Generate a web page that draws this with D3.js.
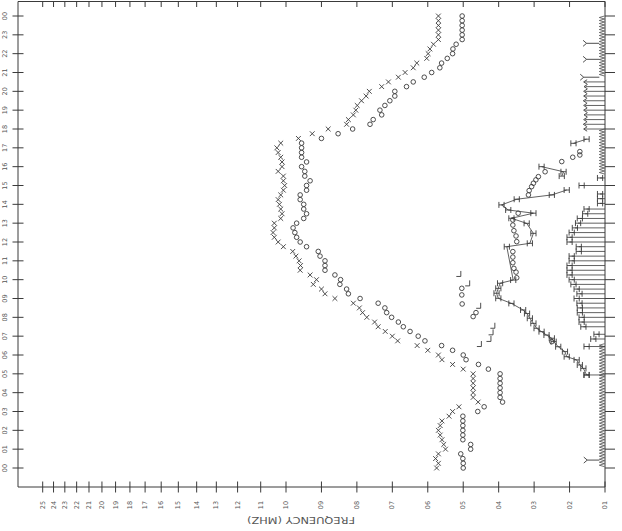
<!DOCTYPE html>
<html>
<head>
<meta charset="utf-8">
<script src="https://cdn.jsdelivr.net/npm/d3@7/dist/d3.min.js"></script>
<style>
  html, body { margin: 0; padding: 0; background: #fff; }
  svg { display: block; }
</style>
</head>
<body>
<script>
// Frequency tick labels (MHz) and hour tick labels
const freqTicks = [1,2,3,4,5,6,7,8,9,10,11,12,13,14,15,16,17,18,19,20,21,22,23,24,25];
const freqTickLabels = ["01","02","03","04","05","06","07","08","09","10","11","12","13","14","15","16","17","18","19","20","21","22","23","24","25"];
const hourTicks = [0,1,2,3,4,5,6,7,8,9,10,11,12,13,14,15,16,17,18,19,20,21,22,23,24];
const hourTickLabels = ["00","01","02","03","04","05","06","07","08","09","10","11","12","13","14","15","16","17","18","19","20","21","22","23","00"];

// Quarter-hour reading times (hours)
const quarterHours = [0,0.25,0.5,0.75,1,1.25,1.5,1.75,2,2.25,2.5,2.75,3,3.25,3.5,3.75,4,4.25,4.5,4.75,5,5.25,5.5,5.75,6,6.25,6.5,6.75,7,7.25,7.5,7.75,8,8.25,8.5,8.75,9,9.25,9.5,9.75,10,10.25,10.5,10.75,11,11.25,11.5,11.75,12,12.25,12.5,12.75,13,13.25,13.5,13.75,14,14.25,14.5,14.75,15,15.25,15.5,15.75,16,16.25,16.5,16.75,17,17.25,17.5,17.75,18,18.25,18.5,18.75,19,19.25,19.5,19.75,20,20.25,20.5,20.75,21,21.25,21.5,21.75,22,22.25,22.5,22.75,23,23.25,23.5,23.75,24];

// "x" trace (MHz), one value per quarter hour
const xTrace = [5.75,5.70,5.78,5.70,5.50,5.55,5.60,5.65,5.70,5.65,5.60,5.40,5.30,5.12,4.58,4.72,4.72,4.72,4.72,4.72,4.72,5.00,5.30,5.60,5.70,6.00,6.30,6.85,7.00,7.20,7.40,7.50,7.72,7.84,7.93,8.10,8.62,8.90,9.00,9.23,9.14,9.32,9.60,9.59,9.63,9.72,9.81,10.1,10.3,10.45,10.5,10.45,10.45,10.2,10.15,10.2,10.25,10.3,10.2,10.1,10.05,10.1,10.1,10.3,10.15,10.15,10.2,10.3,10.35,10.2,9.65,9.26,8.81,8.29,8.24,8.10,8.03,7.99,7.87,7.74,7.65,7.30,7.11,6.83,6.64,6.41,6.31,6.03,5.99,5.94,5.84,5.70,5.70,5.70,5.70,5.70,5.70];

// "o" trace (MHz), one value per quarter hour
const oTrace = [5.00,5.00,5.01,5.07,4.79,4.79,5.01,5.01,5.01,5.01,5.01,5.01,4.59,4.41,3.89,3.96,3.96,3.96,3.96,3.96,3.96,4.29,4.57,4.92,5.00,5.30,5.61,6.08,6.27,6.50,6.69,6.83,7.02,7.16,7.21,7.40,7.91,8.24,8.29,8.48,8.46,8.62,8.90,8.90,8.90,9.04,9.09,9.42,9.60,9.70,9.75,9.80,9.70,9.50,9.42,9.50,9.50,9.60,9.60,9.42,9.42,9.32,9.47,9.47,9.56,9.42,9.56,9.56,9.56,9.56,9.00,8.53,8.12,7.63,7.54,7.30,7.35,7.21,7.07,6.93,6.93,6.60,6.41,6.10,5.89,5.66,5.61,5.45,5.30,5.29,5.20,5.03,5.03,5.03,5.03,5.03,5.03];

// Secondary "o" readings, low group
const oLowHours = [8.04,8.25,8.71,9.19,9.54];
const oLowFreqs = [4.72,4.64,5.03,5.04,5.04];

// Secondary "o" readings, daytime group
const oDayHours = [6.71,10.1,10.4,10.6,10.9,11.2,11.49,12.02,12.32,12.6,12.9,13.17,13.53,14.5,14.73,14.94,15.12,15.3,15.47,15.73,16.27,16.5,16.62,16.8];
const oDayFreqs = [2.5,3.49,3.51,3.57,3.6,3.6,3.6,3.49,3.51,3.57,3.6,3.6,3.45,3.16,3.14,3.07,3.02,2.95,2.88,2.69,2.22,1.91,1.71,1.71];

// "L" readings
const lHours = [6.53,6.8,7.15,7.5,8.56,9.75,10.25];
const lFreqs = [4.53,4.26,4.2,4.15,4.55,4.86,5.11];

// Connected "H" trace (null = break in the line)
const hHours = [4.94,5.29,5.47,5.74,5.91,6.18,6.44,6.71,6.89,7.06,7.24,7.42,7.68,7.95,8.2,8.39,8.74,9.01,9.28,9.54,9.81,9.98,11.75,11.93,12.46,12.99,13.26,13.53,13.7,13.97,14.27,14.5,14.76,15.1,15.5,15.73,16.0,16.6,17.24,17.46];
const hFreqs = [1.52,1.61,1.71,1.80,2.08,2.13,2.32,2.45,2.5,2.65,2.79,2.93,3.02,3.12,3.2,3.31,3.64,4.01,4.06,4.01,3.96,3.59,3.77,3.12,3.02,3.21,3.64,3.02,3.73,3.92,3.49,2.5,2.08,null,2.22,2.17,2.79,null,1.89,1.52];

// Lower-limit bars drawn from 1 MHz, with end markers
const barHours = [4.94,6.45,6.85,7.1,7.5,7.75,8,8.25,8.5,8.75,9,9.25,9.5,9.75,10,10.25,10.5,10.75,11,11.25,11.5,11.75,12,12.25,12.5,12.75,13,13.25,13.5,13.75,14.05,14.3,14.55,15.0,15.4];
const barFreqs = [1.52,1.52,1.33,1.24,1.61,1.66,1.66,1.71,1.71,1.72,1.80,1.72,1.80,1.89,1.94,2.00,2.00,2.00,1.94,1.94,1.74,1.74,2.00,2.00,1.94,1.85,1.76,1.71,1.56,1.52,1.14,1.14,1.14,1.66,1.14];

// Evening bars ending with "<" markers
const eveBarHours = [18,18.25,18.5,18.75,19,19.25,19.5,19.75,20,20.25,20.5];
const eveBarFreqs = [1.56,1.57,1.56,1.55,1.56,1.56,1.57,1.56,1.56,1.55,1.56];

// "Y" readings
const yHours = [0.42,20.75,21.7,22.55];
const yFreqs = [1.5,1.6,1.52,1.52];

// Periods flagged along the 1 MHz edge
const flagStart = [0,15.55,20.75];
const flagEnd = [6.6,18.0,24];
const flagFreq = 1.16;

const W = 622, H = 531;
const ink = "#3a3a3a";

// Frequency scale: linear from 1 to 10 MHz, logarithmic from 10 to 25 MHz
const fLin = d3.scaleLinear().domain([1, 10]).range([605, 286]);
const fLog = d3.scaleLog().domain([10, 25]).range([286, 42.7]);
const fx = f => (f <= 10 ? fLin(f) : fLog(f));
const hy = d3.scaleLinear().domain([0, 24]).range([468, 16]);

const plotLeft = 18, plotRight = fx(1), plotTop = 1.5, plotBottom = 487;

const svg = d3.select("body").append("svg")
  .attr("width", W).attr("height", H)
  .attr("viewBox", `0 0 ${W} ${H}`);

// Frame
const frame = svg.append("g").attr("stroke", ink).attr("stroke-width", 1).attr("fill", "none");
frame.append("path").attr("d", `M${plotLeft},${plotTop}H${plotRight}V${plotBottom}H${plotLeft}Z`);

// Frequency ticks, bottom (crossing) and top (inward)
frame.selectAll("line.fb").data(freqTicks).join("line").attr("class", "fb")
  .attr("x1", d => fx(d)).attr("x2", d => fx(d)).attr("y1", plotBottom - 5.5).attr("y2", plotBottom + 5.5);
frame.selectAll("line.ft").data(freqTicks).join("line").attr("class", "ft")
  .attr("x1", d => fx(d)).attr("x2", d => fx(d)).attr("y1", plotTop).attr("y2", plotTop + 5.5);
// Hour ticks, left (crossing) and right (outward)
frame.selectAll("line.hl").data(hourTicks).join("line").attr("class", "hl")
  .attr("y1", d => hy(d)).attr("y2", d => hy(d)).attr("x1", plotLeft - 5.5).attr("x2", plotLeft + 5.5);
frame.selectAll("line.hr").data(hourTicks).join("line").attr("class", "hr")
  .attr("y1", d => hy(d)).attr("y2", d => hy(d)).attr("x1", plotRight).attr("x2", plotRight + 10);

// Tick labels, turned to read upward
const lbl = svg.append("g").attr("fill", "#555")
  .style("font-family", "'DejaVu Sans', sans-serif").style("font-size", "6.5px");
lbl.selectAll("text.fl").data(freqTicks).join("text").attr("class", "fl")
  .attr("transform", d => `translate(${fx(d)},505) rotate(-90)`)
  .attr("text-anchor", "middle").attr("dominant-baseline", "central")
  .text((d, i) => freqTickLabels[i]);
lbl.selectAll("text.hl").data(hourTicks).join("text").attr("class", "hl")
  .attr("transform", d => `translate(5,${hy(d)}) rotate(-90)`)
  .attr("text-anchor", "middle").attr("dominant-baseline", "central")
  .text((d, i) => hourTickLabels[i]);

// Axis title, upside down
svg.append("text")
  .attr("transform", "translate(301,520) rotate(180)")
  .attr("text-anchor", "middle").attr("dominant-baseline", "central")
  .attr("fill", "#555")
  .style("font-family", "'DejaVu Sans', sans-serif").style("font-size", "9.5px")
  .attr("textLength", 108).attr("lengthAdjust", "spacingAndGlyphs")
  .text("FREQUENCY (MHZ)");

const marks = svg.append("g").attr("stroke", ink).attr("stroke-width", 0.9).attr("fill", "none");

// Flagged periods: tight zig-zag against the 1 MHz edge
flagStart.forEach((s, k) => {
  const y0 = hy(flagEnd[k]), y1 = hy(s);
  const xa = fx(1) - 0.5, xb = fx(flagFreq);
  let d = `M${xa},${y0}`, flip = true;
  for (let y = y0 + 1.5; y <= y1; y += 1.5) { d += `L${flip ? xb : xa},${y}`; flip = !flip; }
  marks.append("path").attr("d", d).attr("stroke-width", 0.7);
});

// Lower-limit bars with "H" end markers
const hGlyph = "M-2.6,-3V3M2.6,-3V3M-2.6,0H2.6";
barHours.forEach((h, i) => {
  marks.append("line").attr("x1", fx(1)).attr("x2", fx(barFreqs[i])).attr("y1", hy(h)).attr("y2", hy(h)).attr("stroke-width", 0.8);
  marks.append("path").attr("d", hGlyph).attr("transform", `translate(${fx(barFreqs[i])},${hy(h)})`);
});
eveBarHours.forEach((h, i) => {
  marks.append("line").attr("x1", fx(1)).attr("x2", fx(eveBarFreqs[i])).attr("y1", hy(h)).attr("y2", hy(h)).attr("stroke-width", 0.8);
  marks.append("path").attr("d", "M2,-2.2L-1.5,0L2,2.2").attr("transform", `translate(${fx(eveBarFreqs[i])},${hy(h)})`);
});

// "Y" markers with stems to the flagged edge
yHours.forEach((h, i) => {
  const x = fx(yFreqs[i]), y = hy(h);
  marks.append("path").attr("d", `M${x - 3.5},${y - 3}L${x},${y}L${x - 3.5},${y + 3}M${x},${y}H${fx(flagFreq)}`);
});

// Connected "H" trace
const hPts = hHours.map((h, i) => [h, hFreqs[i]]);
marks.append("path")
  .attr("d", d3.line().defined(d => d[1] != null).x(d => fx(d[1])).y(d => hy(d[0]))(hPts))
  .attr("stroke-width", 0.8);
hPts.filter(d => d[1] != null).forEach(d => {
  marks.append("path").attr("d", hGlyph).attr("transform", `translate(${fx(d[1])},${hy(d[0])})`);
});

// "L" markers
lHours.forEach((h, i) => {
  marks.append("path").attr("d", "M1.5,-4V1.5H-3").attr("transform", `translate(${fx(lFreqs[i])},${hy(h)})`);
});

// Circle markers
const circ = (h, f) => marks.append("circle").attr("cx", fx(f)).attr("cy", hy(h)).attr("r", 2.3);
quarterHours.forEach((h, i) => { if (oTrace[i] != null) circ(h, oTrace[i]); });
oLowHours.forEach((h, i) => circ(h, oLowFreqs[i]));
oDayHours.forEach((h, i) => circ(h, oDayFreqs[i]));

// Cross markers
quarterHours.forEach((h, i) => {
  if (xTrace[i] == null) return;
  marks.append("path").attr("d", "M-2.4,-2.4L2.4,2.4M-2.4,2.4L2.4,-2.4")
    .attr("transform", `translate(${fx(xTrace[i])},${hy(h)})`);
});
</script>
</body>
</html>
